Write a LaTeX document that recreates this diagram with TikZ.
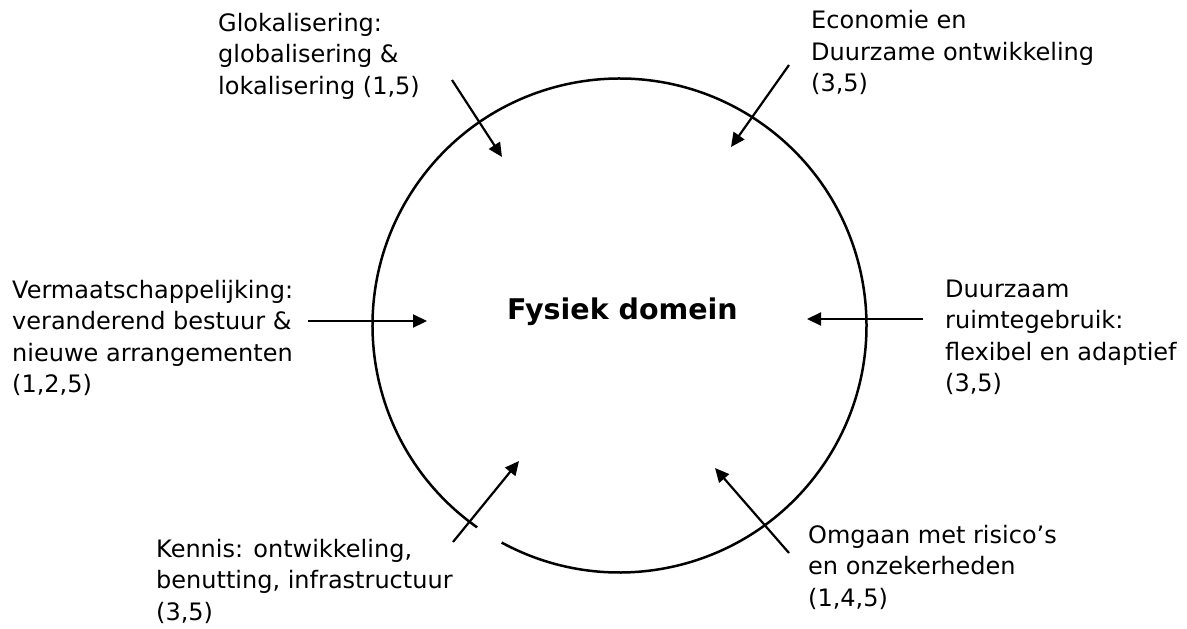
\documentclass[tikz,border=0pt]{standalone}
\usepackage{fontspec}
\setmainfont{DejaVu Sans}
\usetikzlibrary{arrows.meta}
\begin{document}
\begin{tikzpicture}[x=1pt,y=-1pt,
  lbl/.style={anchor=base west, inner sep=0pt, align=left, font=\fontsize{24}{31.5}\selectfont},
  conn/.style={line width=2.2pt, -{Triangle[length=14pt,width=13pt]}},
  ring/.style={line width=2.5pt}]
\useasboundingbox (0,0) rectangle (1187,629);
\coordinate (C) at (619.5,325.5);
\draw[ring] (C) ++(125.2:247) arc[start angle=125.2, end angle=478.5, radius=247];
\node[anchor=base west, inner sep=0pt, font=\fontsize{28.5}{34}\selectfont\bfseries] (fd) at (507,319) {Fysiek domein};
% base anchor = baseline of the last line
\node[lbl] (glok) at (218,94) {Glokalisering:\\globalisering \&\\lokalisering (1,5)};
\node[lbl] (econ) at (811,91.5) {Economie en\\Duurzame ontwikkeling\\(3,5)};
\node[lbl] (verm) at (12,392.5) {Vermaatschappelijking:\\veranderend bestuur \&\\nieuwe arrangementen\\(1,2,5)};
\node[lbl] (duur) at (945,391.5) {Duurzaam\\ruimtegebruik:\\flexibel en adaptief\\(3,5)};
\node[lbl] (kenn) at (156,620) {Kennis: ontwikkeling,\\benutting, infrastructuur\\(3,5)};
\node[lbl] (omga) at (808,606) {Omgaan met risico’s\\en onzekerheden\\(1,4,5)};
\coordinate (g1) at (452,80);  \coordinate (g2) at (502,157);
\coordinate (e1) at (789,65);  \coordinate (e2) at (731,147);
\coordinate (v1) at (308,321); \coordinate (v2) at (427,321);
\coordinate (d1) at (923,319); \coordinate (d2) at (807,319);
\coordinate (o1) at (789,553); \coordinate (o2) at (715,468);
\coordinate (k1) at (453,542); \coordinate (k2) at (519,461);
\draw[conn] (g1) -- (g2);
\draw[conn] (e1) -- (e2);
\draw[conn] (v1) -- (v2);
\draw[conn] (d1) -- (d2);
\draw[conn] (o1) -- (o2);
\draw[conn] (k1) -- (k2);
\end{tikzpicture}
\end{document}
